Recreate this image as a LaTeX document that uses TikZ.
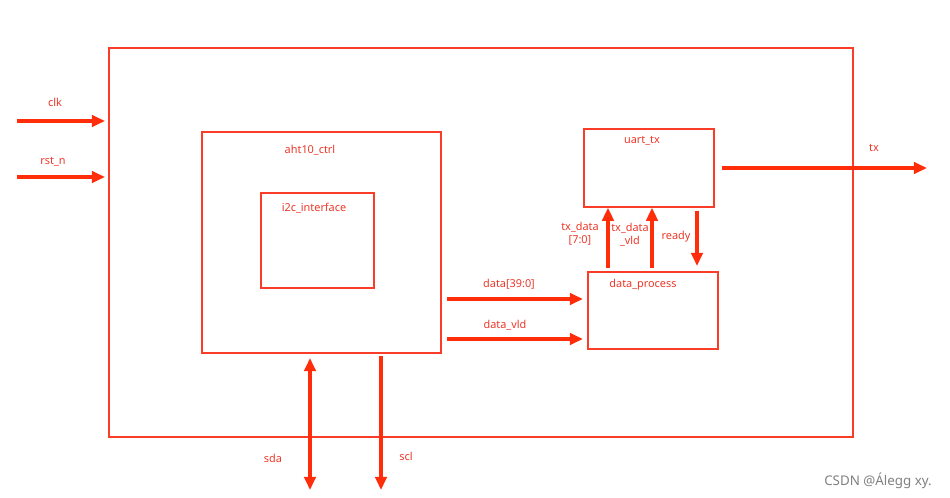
\documentclass[tikz,border=0pt]{standalone}
\usepackage{fontspec}
\setmainfont{Noto Sans}
\usepackage{tikz}
\usetikzlibrary{arrows.meta,positioning,calc}
\usepackage{xcolor}
\definecolor{boxred}{RGB}{250,60,40}
\definecolor{wirered}{RGB}{255,45,10}
\definecolor{txtred}{RGB}{235,55,40}

\begin{document}
\begin{tikzpicture}[
    x=0.02cm, y=-0.02cm,
    block/.style={draw=boxred, line width=0.95pt, anchor=north west, inner sep=0pt},
    blk_label/.style={font=\fontsize{6.2}{7.5}\selectfont, text=txtred, align=center, inner sep=1pt},
    wire/.style={-{Triangle[length=7.5pt, width=6.5pt]}, line width=1.8pt, wirered},
    biwire/.style={{Triangle[length=7.5pt, width=6.5pt]}-{Triangle[length=7.5pt, width=6.5pt]}, line width=1.8pt, wirered}
]
\useasboundingbox (0,0) rectangle (950,497);

% Blocks
\node[block, minimum width=14.88cm, minimum height=7.78cm] (top) at (108,47) {};
\node[block, minimum width=4.78cm, minimum height=4.42cm] (ctrl) at (201,131) {};
\node[block, minimum width=2.26cm, minimum height=1.90cm] (iic) at (260,192) {};
\node[block, minimum width=2.60cm, minimum height=1.56cm] (uart) at (583,128) {};
\node[block, minimum width=2.60cm, minimum height=1.54cm] (proc) at (587,271) {};

% Block names
\node[blk_label] (ctrl_name) at (310,150) {aht10\_ctrl};
\node[blk_label] (iic_name) at (314,208) {i2c\_interface};
\node[blk_label] (uart_name) at (642,141) {uart\_tx};
\node[blk_label] (proc_name) at (643,285) {data\_process};

% Free ends
\coordinate (clk_in) at (17,121);
\coordinate (rst_in) at (17,177);
\coordinate (tx_out) at (927,168);
\coordinate (dat_from) at (447,299);
\coordinate (vld_from) at (447,339);
\coordinate (txd_x) at (608,0);
\coordinate (txv_x) at (652,0);
\coordinate (rdy_x) at (697,0);
\coordinate (sda_top) at (310,358);
\coordinate (sda_bot) at (310,490);
\coordinate (scl_top) at (381,356);
\coordinate (scl_bot) at (381,490);

% Ports
\draw[wire] (clk_in) -- ([xshift=-0.06cm]clk_in -| top.west);
\draw[wire] (rst_in) -- ([xshift=-0.06cm]rst_in -| top.west);
\draw[wire] ([xshift=0.14cm]tx_out -| uart.east) -- (tx_out);
\draw[biwire] (sda_top) -- (sda_bot);
\draw[wire] (scl_top) -- (scl_bot);

% Inner connections
\draw[wire] (dat_from) -- ([xshift=-0.08cm]dat_from -| proc.west);
\draw[wire] (vld_from) -- ([xshift=-0.08cm]vld_from -| proc.west);
\draw[wire] ([yshift=0.06cm]txd_x |- proc.north) -- (txd_x |- uart.south);
\draw[wire] ([yshift=0.06cm]txv_x |- proc.north) -- (txv_x |- uart.south);
\draw[wire] ([yshift=-0.06cm]rdy_x |- uart.south) -- ([yshift=0.1cm]rdy_x |- proc.north);

% Signal names
\node[blk_label] (clk_name) at (55,102) {clk};
\node[blk_label] (rst_name) at (53,162) {rst\_n};
\node[blk_label] (tx_name) at (874,148) {tx};
\node[blk_label] (dat_name) at (509,284) {data[39:0]};
\node[blk_label] (vld_name) at (505,325) {data\_vld};
\node[blk_label] (txd_name) at (580,234) {tx\_data\\{}[7:0]};
\node[blk_label] (txv_name) at (630,235) {tx\_data\\\_vld};
\node[blk_label] (rdy_name) at (676,237) {ready};
\node[blk_label] (sda_name) at (273,458) {sda};
\node[blk_label] (scl_name) at (406,456) {scl};

% Watermark
\node[font=\fontsize{7.6}{9}\selectfont, text=gray] (mark) at (878,481) {CSDN @Álegg xy.};

\end{tikzpicture}
\end{document}
